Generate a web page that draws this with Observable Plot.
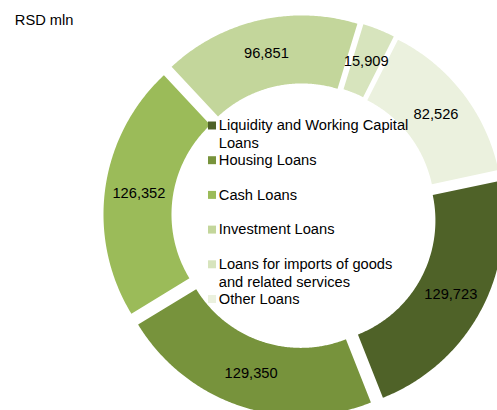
<!DOCTYPE html>
<html>
<head>
<meta charset="utf-8">
<script src="https://cdn.jsdelivr.net/npm/d3@7"></script>
<script src="https://cdn.jsdelivr.net/npm/@observablehq/plot@0.6"></script>
<style>
  body { margin: 0; background: #ffffff; }
  #chart svg { display: block; }
</style>
</head>
<body>
<div id="chart"></div>
<script>
// ---- data ----
const categories = [
  "Liquidity and Working Capital Loans",
  "Housing Loans",
  "Cash Loans",
  "Investment Loans",
  "Loans for imports of goods and related services",
  "Other Loans"
];
const values = [129723, 129350, 126352, 96851, 15909, 82526];
const legendLabels = [
  "Liquidity and Working Capital\nLoans",
  "Housing Loans",
  "Cash Loans",
  "Investment Loans",
  "Loans for imports of goods\nand related services",
  "Other Loans"
];
const colors = ["#4F6228", "#77933C", "#9BBB59", "#C3D69B", "#D7E4BD", "#EBF1DE"];
const unitLabel = "RSD mln";

// ---- layout (pixel units) ----
const W = 497, H = 410;
const CX = 303.5, CY = 215.3;
const R_OUT = 190.6, R_IN = 122.6, EXPLODE = 10;
const START = 78 * Math.PI / 180;
const FONT = "Liberation Sans, Arial, Helvetica, sans-serif";
const FS = 14.67;

const total = d3.sum(values);
let acc = 0;
const slices = values.map((v, i) => {
  const a0 = START + (acc / total) * 2 * Math.PI;
  acc += v;
  const a1 = START + (acc / total) * 2 * Math.PI;
  return {cat: categories[i], value: v, a0, a1, mid: (a0 + a1) / 2, i};
});

// polygon outlines of each (exploded) ring segment
const poly = [];
for (const s of slices) {
  const sx = EXPLODE * Math.sin(s.mid), sy = EXPLODE * Math.cos(s.mid);
  const n = Math.max(2, Math.ceil((s.a1 - s.a0) * 180 / Math.PI * 2));
  for (let k = 0; k <= n; k++) {
    const a = s.a0 + (s.a1 - s.a0) * k / n;
    poly.push({cat: s.cat, x: sx + R_OUT * Math.sin(a), y: sy + R_OUT * Math.cos(a)});
  }
  for (let k = n; k >= 0; k--) {
    const a = s.a0 + (s.a1 - s.a0) * k / n;
    poly.push({cat: s.cat, x: sx + R_IN * Math.sin(a), y: sy + R_IN * Math.cos(a)});
  }
}

// value labels at middle of ring along bisector
const labelR = EXPLODE + (R_OUT + R_IN) / 2;
const valueLabels = slices.map(s => ({
  x: labelR * Math.sin(s.mid),
  y: labelR * Math.cos(s.mid),
  text: d3.format(",")(s.value)
}));

// legend inside the hole
const LEG_X = 218.3 - CX, LEG_SQ_X = 211.5 - CX;
const LEG_TOP = CY - 125, LEG_STEP = 34.7, LINE_STEP = 17.6;
const legendRows = categories.map((c, i) => ({cat: c, x: LEG_SQ_X, y: LEG_TOP - i * LEG_STEP}));
const legendLines = [];
legendLabels.forEach((lab, i) => {
  lab.split("\n").forEach((line, j) => {
    legendLines.push({x: LEG_X, y: LEG_TOP - i * LEG_STEP - j * LINE_STEP, text: line});
  });
});

const chart = Plot.plot({
  width: W,
  height: H,
  margin: 0,
  style: {fontFamily: FONT, background: "#ffffff", overflow: "hidden"},
  x: {domain: [-CX, W - CX], axis: null},
  y: {domain: [CY - H, CY], axis: null},
  color: {domain: categories, range: colors},
  marks: [
    Plot.line(poly, {x: "x", y: "y", z: "cat", fill: "cat", stroke: "none", curve: "linear"}),
    Plot.text(valueLabels, {x: "x", y: "y", text: "text", fill: "#000", fontSize: FS, fontFamily: FONT, textAnchor: "middle"}),
    Plot.dot(legendRows, {x: "x", y: "y", fill: "cat", symbol: "square", r: 4.5, stroke: "none"}),
    Plot.text(legendLines, {x: "x", y: "y", text: "text", fill: "#000", fontSize: FS, fontFamily: FONT, textAnchor: "start"}),
    Plot.text([unitLabel], {frameAnchor: "top-left", dx: 14.3, dy: 20, lineAnchor: "middle", textAnchor: "start", text: d => d, fill: "#000", fontSize: FS, fontFamily: FONT})
  ]
});

document.getElementById("chart").appendChild(chart);
</script>
</body>
</html>
